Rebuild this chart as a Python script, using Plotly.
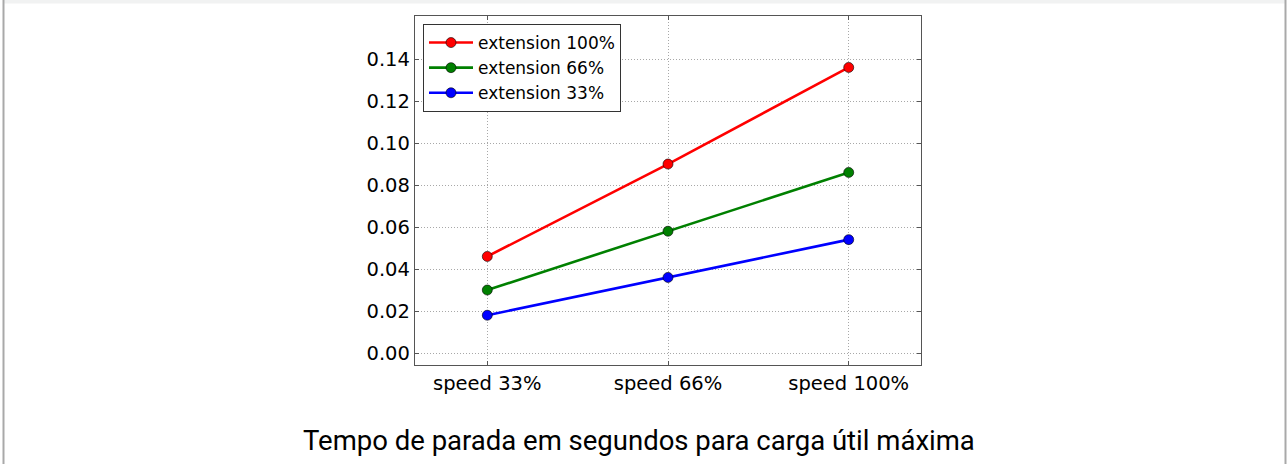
import plotly.graph_objects as go

# Stopping time (s) for maximum payload, per speed and arm extension
speeds = ["speed 33%", "speed 66%", "speed 100%"]
ext_100 = [0.046, 0.090, 0.136]
ext_66 = [0.030, 0.058, 0.086]
ext_33 = [0.018, 0.036, 0.054]
series_names = ["extension 100%", "extension 66%", "extension 33%"]
series_colors = ["#ff0000", "#008000", "#0000ff"]
y_ticks = [0.00, 0.02, 0.04, 0.06, 0.08, 0.10, 0.12, 0.14]
caption = "Tempo de parada em segundos para carga útil máxima"

W, H = 1288, 464
L, R, T, B = 415, 921, 16, 365  # plot area in pixels


def px(xp):
    return (xp - L) / (R - L)


def py(yp):
    return (B - yp) / (B - T)


fig = go.Figure()
for name, vals, col in zip(series_names, [ext_100, ext_66, ext_33], series_colors):
    fig.add_trace(go.Scatter(
        x=[0, 1, 2], y=vals, name=name, mode="lines+markers",
        line=dict(color=col, width=2.6),
        marker=dict(color=col, size=10, line=dict(color="#000000", width=0.6)),
    ))

axis_common = dict(
    showline=True, linecolor="#555555", linewidth=1.3, mirror="ticks",
    ticks="inside", ticklen=4, tickcolor="#555555", tickwidth=1,
    showgrid=True, gridcolor="#a8a8a8", griddash="1px,2px", gridwidth=1,
    zeroline=False,
    tickfont=dict(family="DejaVu Sans", size=19.5, color="#000000"),
)

fig.update_xaxes(
    range=[-0.4, 2.4], tickvals=[0, 1, 2], ticktext=speeds, **axis_common
)
fig.update_yaxes(
    range=[-0.0057, 0.1605], tickvals=y_ticks,
    ticktext=[f"{v:.2f}" for v in y_ticks], **axis_common
)

shapes = [
    # page frame
    dict(type="rect", xref="paper", yref="paper",
         x0=px(4), x1=px(1285), y0=py(0), y1=py(3.5),
         fillcolor="#f1f2f2", line=dict(width=0), layer="below"),
    dict(type="line", xref="paper", yref="paper",
         x0=px(3.5), x1=px(3.5), y0=py(0), y1=py(H),
         line=dict(color="#a9a9a9", width=2)),
    dict(type="line", xref="paper", yref="paper",
         x0=px(1285.5), x1=px(1285.5), y0=py(0), y1=py(H),
         line=dict(color="#a9a9a9", width=2)),
]

fig.update_layout(
    width=W, height=H,
    margin=dict(l=L, r=W - R, t=T, b=H - B, pad=0),
    paper_bgcolor="#ffffff", plot_bgcolor="#ffffff",
    shapes=shapes,
    legend=dict(
        x=px(423), y=py(24), xanchor="left", yanchor="top",
        bgcolor="#ffffff", bordercolor="#333333", borderwidth=1,
        font=dict(family="DejaVu Sans", size=17, color="#000000"),
        itemwidth=44, tracegroupgap=0,
    ),
    annotations=[dict(
        text=caption, xref="paper", yref="paper",
        x=px(639), y=py(440), xanchor="center", yanchor="middle",
        showarrow=False, font=dict(family="Roboto", size=27.5, color="#000000"),
    )],
)

fig.write_html("out.html")
